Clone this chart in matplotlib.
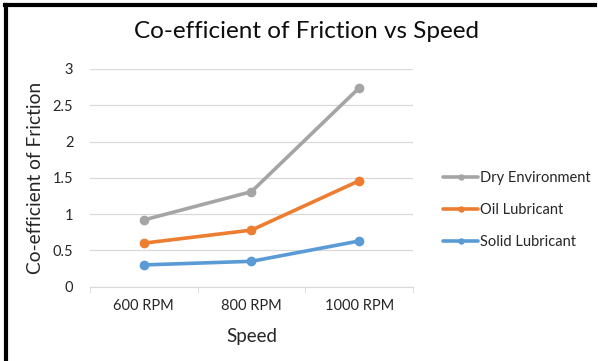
import matplotlib

matplotlib.use("Agg")
import matplotlib.pyplot as plt

# data
speeds = ["600 RPM", "800 RPM", "1000 RPM"]
dry_environment = [0.92, 1.31, 2.74]
oil_lubricant = [0.60, 0.78, 1.46]
solid_lubricant = [0.30, 0.35, 0.63]

series = [
    ("Dry Environment", dry_environment, "#A5A5A5"),
    ("Oil Lubricant", oil_lubricant, "#ED7D31"),
    ("Solid Lubricant", solid_lubricant, "#5B9BD5"),
]

plt.rcParams["font.family"] = ["Lato", "DejaVu Sans"]

W, H = 598, 361
fig = plt.figure(figsize=(W / 100, H / 100), dpi=100)
ax = fig.add_axes([90 / W, 1 - 286.7 / H, (413 - 90) / W, (286.7 - 69) / H])

x = list(range(len(speeds)))
for name, vals, color in series:
    ax.plot(x, vals, color=color, lw=2.6, marker="o", ms=6, label=name,
            solid_capstyle="round")

ax.set_xlim(-0.5, len(speeds) - 0.5)
ax.set_ylim(0, 3)
ax.set_yticks([0, 0.5, 1, 1.5, 2, 2.5, 3])
ax.set_yticklabels(["0", "0.5", "1", "1.5", "2", "2.5", "3"])
ax.yaxis.grid(True, color="#D9D9D9", lw=0.9)
ax.set_axisbelow(True)
for s in ["top", "right", "left"]:
    ax.spines[s].set_visible(False)
ax.spines["bottom"].set_color("#D9D9D9")
ax.tick_params(axis="y", length=0, pad=12, labelsize=10.5, labelcolor="#262626")

ax.set_xticks(x)
ax.set_xticklabels(speeds)
ax.tick_params(axis="x", length=0, pad=9, labelsize=10.5, labelcolor="#262626")
ax.set_xticks([-0.5, 0.5, 1.5, 2.5], minor=True)
ax.tick_params(axis="x", which="minor", length=4, color="#D9D9D9")

ax.set_xlabel("Speed", fontsize=13.5, color="#262626", labelpad=11)
ax.set_ylabel("Co-efficient of Friction", fontsize=13.8, color="#262626", labelpad=6)

fig.text(307 / W, 1 - 32 / H, "Co-efficient of Friction vs Speed", fontsize=17.5,
         color="#0D0D0D", ha="center", va="center")

fig.legend(loc="center left", bbox_to_anchor=(430 / W, 1 - 210 / H), frameon=False,
           fontsize=10.5, handlelength=2.4, handletextpad=0.1, labelspacing=1.25,
           markerscale=0.6, labelcolor="#262626")

# chart border, black on top and left like the screenshot crop
fig.add_artist(plt.Line2D([5 / W, 595 / W], [1 - 5 / H, 1 - 5 / H],
                          transform=fig.transFigure, color="black", lw=3))
fig.add_artist(plt.Line2D([5.5 / W, 5.5 / W], [0, 1 - 5 / H],
                          transform=fig.transFigure, color="black", lw=3))

fig.savefig("out.png", dpi=100)
